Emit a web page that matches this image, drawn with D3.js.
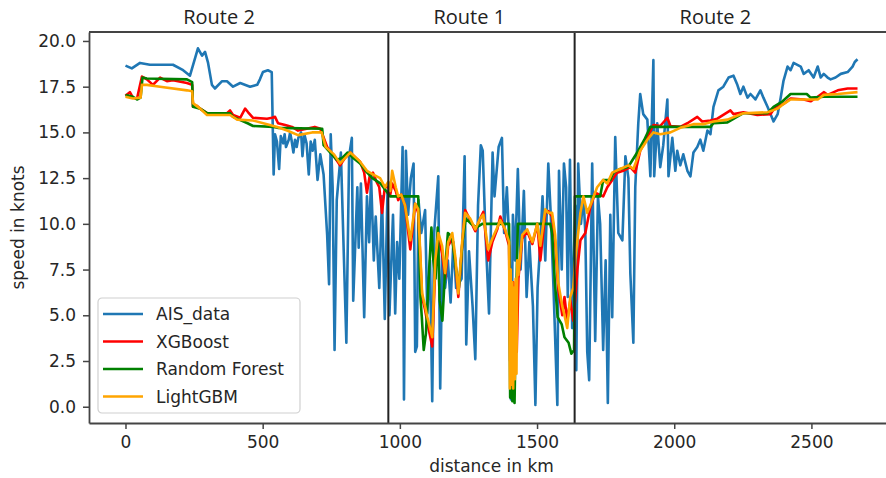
<!DOCTYPE html>
<html>
<head>
<meta charset="utf-8">
<script src="https://cdn.jsdelivr.net/npm/d3@7"></script>
<style>
  body { margin: 0; background: #fff; }
  svg { display: block; }
  .axis text { font-family: "DejaVu Sans", sans-serif; font-size: 17px; fill: #262626; }
  .axis path, .axis line { stroke: #444; }
</style>
</head>
<body>
<div id="chart"></div>
<script>

// measured AIS speed, [distance km, speed knots]
var aisData = [
  [0, 18.65], [23, 18.5], [53, 18.8], [89, 18.7], [126, 18.7], [173, 18.7], [210, 18.4], [235, 18.1],
  [264, 19.6], [279, 19.2], [290, 19.4], [301, 18.8], [315, 17.6], [326, 17.4], [352, 17.8], [370, 17.8],
  [392, 17.5], [418, 17.7], [454, 17.5], [480, 17.6], [490, 17.9], [501, 18.3], [519, 18.4], [533, 18.3],
  [540, 12.7], [545, 14.9], [552, 14.5], [560, 13.0], [566, 14.8], [575, 14.4], [580, 14.9], [585, 14.2],
  [595, 14.6], [600, 15.0], [605, 14.6], [612, 13.9], [618, 14.6], [624, 14.2], [630, 14.7], [640, 15.0],
  [645, 13.7], [652, 14.9], [660, 14.4], [668, 12.7], [675, 14.5], [682, 14.0], [690, 14.6], [700, 12.4],
  [710, 13.8], [722, 12.7], [735, 9.4], [742, 6.7],
  [748, 14.9], [755, 12.0], [762, 3.1], [770, 11.3], [785, 13.9], [805, 3.5], [815, 13.7], [825, 14.7],
  [830, 5.8], [845, 12.0], [850, 8.7], [858, 12.2], [870, 4.9], [880, 11.5], [888, 9.0], [895, 12.6],
  [905, 8.0], [912, 10.4], [925, 6.5], [935, 11.5], [945, 4.8], [955, 11.8],
  [962, 5.0], [968, 7.6], [975, 10.5], [983, 5.1], [990, 9.0], [998, 7.0], [1010, 14.2], [1015, 0.4],
  [1022, 14.0], [1030, 10.5], [1040, 12.5], [1050, 13.3], [1056, 3.0], [1062, 3.3], [1068, 11.3], [1078, 9.5],
  [1092, 10.75], [1100, 5.1], [1110, 8.0], [1118, 0.3], [1125, 9.5], [1140, 12.6], [1147, 1.0], [1155, 8.5],
  [1165, 6.5], [1175, 8.0], [1185, 5.7], [1195, 9.0], [1205, 6.5], [1225, 7.0], [1236, 13.7], [1242, 3.4],
  [1252, 8.5], [1265, 5.5], [1275, 2.6], [1285, 11.0], [1295, 14.3], [1302, 14.0], [1312, 9.5], [1325, 5.1],
  [1338, 13.9], [1345, 11.5], [1360, 14.2], [1372, 14.7], [1380, 9.5], [1390, 12.0], [1400, 8.5], [1405, 0.4],
  [1412, 10.5], [1420, 8.0], [1430, 13.0], [1440, 7.5], [1452, 11.8], [1462, 6.0], [1472, 9.0], [1485, 5.5],
  [1494, 0.1], [1502, 6.5], [1512, 9.0], [1520, 11.5], [1530, 8.0], [1541, 13.3], [1550, 10.5], [1560, 6.5],
  [1574, 0.1], [1580, 12.9], [1590, 7.5], [1598, 13.3], [1606, 12.0], [1612, 6.0], [1620, 13.5], [1628, 4.3],
  [1634, 8.0], [1639, 11.0], [1643, 2.0], [1650, 13.3], [1660, 10.0], [1669, 11.5], [1676, 9.5], [1683, 3.0],
  [1690, 1.45], [1701, 13.3], [1712, 3.6], [1722, 11.5], [1730, 10.0], [1741, 3.1], [1750, 8.0], [1758, 0.2],
  [1767, 10.5], [1774, 4.9], [1785, 14.75], [1796, 9.5], [1811, 9.1], [1822, 13.7], [1833, 12.5], [1840, 7.3],
  [1851, 3.5], [1858, 12.0], [1869, 15.5], [1876, 17.1], [1887, 16.0], [1902, 15.7], [1913, 12.6], [1924, 18.95],
  [1927, 12.6], [1938, 15.5], [1949, 13.1], [1960, 14.3], [1975, 16.8], [1979, 12.6], [1993, 14.7], [2004, 12.9],
  [2011, 14.0], [2022, 13.2], [2033, 13.8], [2048, 12.9], [2059, 12.6], [2070, 13.9], [2084, 14.2], [2095, 14.6],
  [2106, 14.0], [2121, 15.1], [2132, 14.9], [2143, 16.4], [2161, 17.3], [2179, 17.5], [2198, 18.0], [2216, 18.1],
  [2230, 17.6], [2241, 17.1], [2252, 17.5], [2267, 16.9], [2278, 17.1], [2296, 16.8], [2314, 17.3], [2325, 16.9],
  [2340, 16.4], [2351, 16.0], [2362, 15.6], [2377, 16.0], [2388, 16.9], [2398, 17.8], [2413, 18.6], [2424, 18.4],
  [2435, 18.8], [2461, 18.6], [2472, 18.2], [2490, 18.4], [2508, 18.0], [2523, 18.6], [2534, 18.0], [2545, 18.2],
  [2559, 18.0], [2570, 17.9], [2588, 18.0], [2607, 18.2], [2632, 18.3], [2650, 18.6], [2658, 18.85], [2668, 19.0]
];

var xgbData = [
  [0, 17.0], [16, 17.2], [27, 16.9], [42, 16.85], [60, 18.05], [78, 17.9], [100, 17.6], [126, 18.0],
  [151, 17.8], [173, 17.85], [224, 17.7], [243, 17.6], [246, 16.4], [261, 16.45], [272, 16.3], [297, 16.05],
  [370, 16.05], [381, 16.2], [392, 15.95], [418, 15.8], [436, 16.3], [447, 16.1], [465, 15.8], [516, 15.75],
  [534, 15.8], [545, 15.85], [556, 15.5], [582, 15.4], [607, 15.3], [629, 15.1], [660, 15.2], [690, 15.3],
  [710, 15.2], [720, 14.8], [735, 14.2], [760, 13.7], [782, 13.2], [800, 13.6], [819, 13.9], [840, 13.6],
  [855, 13.4], [870, 12.8], [880, 11.7], [890, 12.6], [902, 12.8], [915, 12.3], [925, 12.0], [935, 10.6],
  [945, 12.0], [958, 12.0], [965, 11.6], [972, 12.2], [985, 11.8], [994, 11.3], [1005, 11.6], [1019, 11.0],
  [1038, 8.6], [1056, 11.1], [1067, 10.6], [1081, 6.0], [1092, 5.3], [1100, 4.6], [1118, 3.3], [1129, 7.6],
  [1140, 9.3], [1154, 8.4], [1165, 7.0], [1176, 8.8], [1191, 9.2], [1202, 8.0], [1213, 6.0], [1227, 8.8],
  [1238, 10.75], [1256, 10.2], [1275, 9.6], [1293, 10.3], [1304, 10.65], [1322, 8.0], [1337, 9.0], [1355, 9.7],
  [1366, 10.4], [1384, 9.6], [1398, 8.8], [1402, 2.5], [1406, 6.5], [1410, 2.2], [1414, 6.8], [1418, 2.5],
  [1422, 6.5], [1426, 3.0], [1432, 7.0],
  [1446, 9.2], [1464, 9.6], [1483, 8.9], [1501, 10.0], [1512, 8.0], [1530, 10.6], [1541, 10.7], [1555, 10.4],
  [1566, 9.0], [1577, 6.5], [1592, 5.0], [1600, 6.0], [1610, 4.7], [1621, 5.8], [1632, 4.7], [1640, 6.0],
  [1647, 7.5], [1658, 9.1], [1676, 9.5], [1694, 10.9], [1712, 11.7], [1741, 11.5], [1756, 12.0], [1774, 12.4],
  [1792, 12.8], [1814, 12.9], [1840, 13.1], [1858, 12.8], [1876, 14.0], [1902, 14.75], [1924, 15.4], [1949, 15.35],
  [1975, 15.8], [1986, 15.35], [2022, 15.3], [2048, 15.5], [2084, 15.85], [2102, 15.6], [2132, 15.65], [2157, 15.75],
  [2205, 16.2], [2216, 16.0], [2252, 16.1], [2303, 15.95], [2351, 16.0], [2369, 16.4], [2398, 16.55], [2424, 16.85],
  [2472, 16.8], [2497, 16.7], [2523, 16.95], [2545, 17.2], [2559, 17.05], [2596, 17.3], [2632, 17.4], [2668, 17.4]
];

var rfData = [
  [0, 17.05], [27, 16.95], [42, 16.8], [55, 16.9], [62, 18.0], [78, 17.95], [224, 17.9], [243, 17.75],
  [246, 16.4], [272, 16.3], [297, 16.05], [381, 16.05], [392, 15.85], [445, 15.5], [465, 15.35], [540, 15.3],
  [555, 15.25], [717, 15.2], [722, 14.3], [740, 14.0], [770, 13.5], [790, 13.6], [810, 13.9], [830, 13.6],
  [855, 13.3], [875, 12.9], [900, 12.5], [930, 12.2], [950, 11.8], [965, 11.5], [1067, 11.5], [1075, 6.0],
  [1080, 4.9], [1087, 3.1], [1095, 4.0], [1105, 7.0], [1115, 9.8], [1122, 8.0], [1130, 7.0], [1138, 9.8],
  [1145, 5.8], [1155, 4.7], [1165, 7.5], [1175, 9.5], [1190, 9.3], [1205, 7.5], [1215, 6.5], [1228, 9.0],
  [1240, 10.3], [1260, 10.0], [1280, 9.8], [1300, 10.0], [1398, 10.0], [1402, 0.5], [1406, 4.0], [1410, 0.3],
  [1414, 3.5], [1418, 0.2], [1424, 6.0], [1430, 10.0], [1548, 10.0], [1555, 9.5], [1565, 6.8], [1575, 4.9],
  [1590, 4.5], [1600, 3.8],
  [1615, 3.5], [1625, 2.9], [1635, 3.1], [1638, 11.5], [1730, 11.5], [1741, 12.4], [1767, 12.4], [1778, 12.8],
  [1803, 13.0], [1829, 13.1], [1840, 13.3], [1869, 14.0], [1891, 14.6], [1913, 15.3], [2132, 15.3], [2143, 15.5],
  [2194, 15.55], [2252, 16.05], [2340, 16.05], [2362, 16.4], [2395, 16.7], [2424, 17.1], [2483, 17.1], [2497, 16.9],
  [2545, 16.95], [2668, 16.95]
];

var lgbmData = [
  [0, 16.95], [27, 16.85], [55, 16.9], [60, 17.6], [78, 17.6], [126, 17.5], [224, 17.3], [243, 17.25],
  [246, 16.6], [272, 16.3], [297, 15.95], [381, 15.95], [407, 15.7], [465, 15.65], [516, 15.45], [553, 15.3],
  [589, 15.1], [629, 14.85], [680, 15.0], [715, 15.0], [730, 14.2], [760, 13.8], [782, 13.3], [819, 13.9],
  [855, 13.4], [880, 12.9], [902, 12.7], [928, 12.5], [946, 12.0], [958, 12.3], [965, 11.8], [972, 12.9],
  [985, 12.0], [994, 11.5], [1005, 11.6], [1019, 11.0], [1038, 9.1], [1056, 11.1], [1067, 10.8], [1081, 6.2],
  [1092, 5.5], [1100, 4.9], [1118, 3.8], [1129, 8.0], [1140, 9.5], [1154, 8.8], [1165, 7.3], [1176, 9.0],
  [1191, 9.5], [1202, 8.2], [1213, 6.2], [1227, 9.0], [1238, 10.6], [1256, 10.3], [1275, 9.7], [1293, 10.3],
  [1304, 10.5], [1322, 8.6], [1337, 9.2], [1355, 9.8], [1366, 10.2], [1384, 9.7], [1398, 9.0], [1401, 1.0],
  [1404, 7.5], [1407, 1.2], [1410, 6.8], [1413, 1.0], [1416, 6.5], [1419, 1.5], [1422, 7.0], [1425, 1.8],
  [1428, 8.0], [1432, 7.2], [1446, 9.4], [1464, 9.7],
  [1483, 9.0], [1501, 10.0], [1512, 8.8], [1530, 10.8], [1541, 10.6], [1555, 10.6], [1566, 9.4], [1577, 6.8],
  [1592, 5.5], [1600, 5.0], [1610, 4.3], [1621, 6.0], [1632, 6.5], [1639, 8.0], [1647, 9.1], [1658, 10.6],
  [1669, 11.5], [1683, 10.6], [1694, 11.0], [1719, 12.0], [1741, 12.4], [1756, 12.2], [1774, 12.8], [1803, 13.0],
  [1833, 13.2], [1851, 13.0], [1876, 14.0], [1902, 14.6], [1924, 15.0], [1949, 14.9], [1986, 15.0], [2022, 15.25],
  [2070, 15.45], [2106, 15.45], [2143, 15.6], [2194, 15.7], [2252, 16.05], [2340, 16.1], [2377, 16.3], [2398, 16.55],
  [2424, 16.8], [2472, 16.8], [2523, 16.8], [2545, 17.05], [2596, 17.1], [2668, 17.2]
];

var xTicks = [0, 500, 1000, 1500, 2000, 2500];
var yTicks = [0, 2.5, 5, 7.5, 10, 12.5, 15, 17.5, 20];
var routeBreaks = [958, 1637];
var routeNames = ["Route 2", "Route 1", "Route 2"];
var routeCentres = [341, 1253, 2150];

var series = [
  {name: "AIS_data", data: aisData, color: "#1f77b4"},
  {name: "XGBoost", data: xgbData, color: "red"},
  {name: "Random Forest", data: rfData, color: "green"},
  {name: "LightGBM", data: lgbmData, color: "orange"}
];

var width = 886, height = 478;
var pLeft = 89, pTop = 32, pRight = 894, pBottom = 423;

var svg = d3.select("#chart").append("svg")
    .attr("width", width)
    .attr("height", height);

var x = d3.scaleLinear().domain([-133, 2801]).range([pLeft, pRight]);
var y = d3.scaleLinear().domain([-0.89, 20.49]).range([pBottom, pTop]);

svg.append("clipPath").attr("id", "plot-clip")
  .append("rect")
    .attr("x", pLeft).attr("y", pTop)
    .attr("width", pRight - pLeft).attr("height", pBottom - pTop);

var line = d3.line()
    .x(function (d) { return x(d[0]); })
    .y(function (d) { return y(d[1]); });

var plot = svg.append("g").attr("clip-path", "url(#plot-clip)");

series.forEach(function (s) {
    plot.append("path")
        .datum(s.data)
        .attr("d", line)
        .attr("fill", "none")
        .attr("stroke", s.color)
        .attr("stroke-width", 2.6)
        .attr("stroke-linejoin", "round");
});

// route boundaries
routeBreaks.forEach(function (k) {
    svg.append("line")
        .attr("x1", x(k)).attr("x2", x(k))
        .attr("y1", pTop).attr("y2", pBottom)
        .attr("stroke", "#222")
        .attr("stroke-width", 2);
});

// axes
svg.append("g")
    .attr("class", "axis")
    .attr("transform", "translate(0," + pBottom + ")")
    .call(d3.axisBottom(x).tickValues(xTicks).tickFormat(d3.format("d"))
        .tickSize(6).tickSizeOuter(0).tickPadding(7))
    .call(function (g) { g.select(".domain").attr("stroke-width", 1.8); })
    .selectAll("line").attr("stroke-width", 1.5);

svg.append("g")
    .attr("class", "axis")
    .attr("transform", "translate(" + pLeft + ",0)")
    .call(d3.axisLeft(y).tickValues(yTicks).tickFormat(d3.format(".1f"))
        .tickSize(6).tickSizeOuter(0).tickPadding(7))
    .call(function (g) { g.select(".domain").attr("stroke-width", 1.8); })
    .selectAll("line").attr("stroke-width", 1.5);

svg.append("line")
    .attr("x1", pLeft).attr("x2", width)
    .attr("y1", pTop).attr("y2", pTop)
    .attr("stroke", "#444").attr("stroke-width", 1.8);

// labels
svg.append("text")
    .attr("x", (pLeft + pRight) / 2).attr("y", 472)
    .attr("text-anchor", "middle")
    .style("font-family", "DejaVu Sans, sans-serif").style("font-size", "17px").style("fill", "#262626")
    .text("distance in km");

svg.append("text")
    .attr("transform", "translate(24," + (pTop + pBottom) / 2 + ") rotate(-90)")
    .attr("text-anchor", "middle")
    .style("font-family", "DejaVu Sans, sans-serif").style("font-size", "17px").style("fill", "#262626")
    .text("speed in knots");

routeNames.forEach(function (n, i) {
    svg.append("text")
        .attr("x", x(routeCentres[i])).attr("y", 24)
        .attr("text-anchor", "middle")
        .style("font-family", "Open Sans, sans-serif").style("font-size", "20px").style("fill", "#222")
        .text(n);
});

// legend
var leg = svg.append("g").attr("transform", "translate(98,298)");
leg.append("rect")
    .attr("width", 202).attr("height", 115)
    .attr("rx", 4)
    .attr("fill", "white").attr("fill-opacity", 0.85)
    .attr("stroke", "#d0d0d0").attr("stroke-width", 1.2);

series.forEach(function (s, i) {
    var ly = 16 + i * 27.5;
    leg.append("line")
        .attr("x1", 5).attr("x2", 45)
        .attr("y1", ly).attr("y2", ly)
        .attr("stroke", s.color).attr("stroke-width", 2.5);
    leg.append("text")
        .attr("x", 58).attr("y", ly + 6)
        .style("font-family", "DejaVu Sans, sans-serif").style("font-size", "17px").style("fill", "#262626")
        .text(s.name);
});

</script>
</body>
</html>
